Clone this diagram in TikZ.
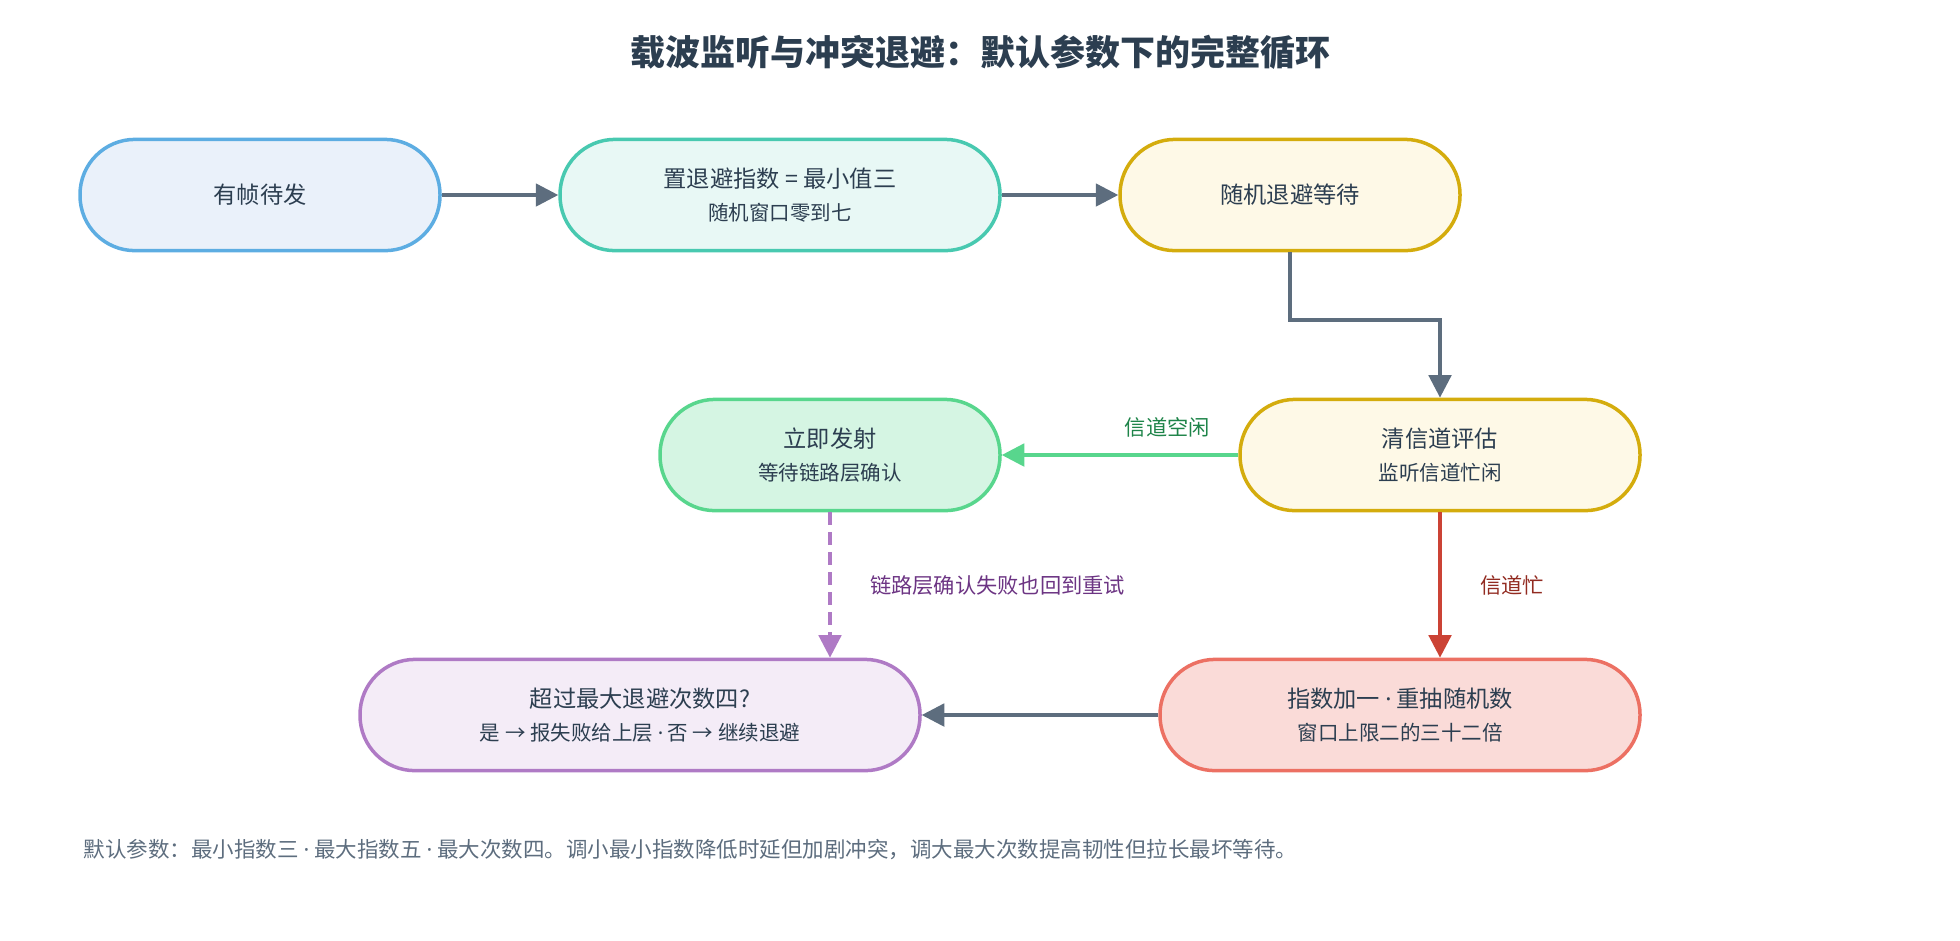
\documentclass[tikz,border=0pt]{standalone}
\usepackage{fontspec}
\setmainfont{Noto Sans CJK SC}
\newfontfamily\lat{Noto Sans}
\newcommand{\md}{{\lat ·}}
\usetikzlibrary{arrows.meta}
\definecolor{ink}{HTML}{2C3E50}
\definecolor{arr}{HTML}{5D6D7E}
\definecolor{bA}{HTML}{5DADE2}\definecolor{fA}{HTML}{EAF1FA}
\definecolor{bB}{HTML}{48C9B0}\definecolor{fB}{HTML}{E8F8F5}
\definecolor{bC}{HTML}{D4AC0D}\definecolor{fC}{HTML}{FEF9E7}
\definecolor{bE}{HTML}{58D68D}\definecolor{fE}{HTML}{D5F5E3}
\definecolor{bF}{HTML}{EC7063}\definecolor{fF}{HTML}{FADBD8}
\definecolor{bG}{HTML}{AF7AC5}\definecolor{fG}{HTML}{F4ECF7}
\definecolor{red}{HTML}{CB4335}\definecolor{tgreen}{HTML}{1E8449}
\definecolor{tred}{HTML}{922B21}\definecolor{tpurple}{HTML}{6C3483}
\begin{document}
\begin{tikzpicture}[x=0.5pt,y=-0.5pt,
 box/.style={rounded corners=22pt,line width=1.4pt,minimum height=44.5pt,align=center,text=ink,font=\fontsize{9.3}{11}\selectfont,inner sep=0pt},
 ar/.style={line width=1.4pt,draw=arr,-{Triangle[length=9pt,width=9pt]}},
 lab/.style={font=\fontsize{8.5}{10}\selectfont}]
\useasboundingbox (0,0) rectangle (1568,752);
\node[font=\bfseries\fontsize{14}{16}\selectfont,text=ink] (t) at (784,42) {载波监听与冲突退避：默认参数下的完整循环};
\node[box,draw=bA,fill=fA,minimum width=144pt] (a) at (208,156) {有帧待发};
\node[box,draw=bB,fill=fB,minimum width=176pt] (b) at (624,156) {置退避指数 = 最小值三\\[2pt]{\fontsize{8.2}{10}\selectfont 随机窗口零到七}};
\node[box,draw=bC,fill=fC,minimum width=136pt] (c) at (1032,156) {随机退避等待};
\node[box,draw=bC,fill=fC,minimum width=160pt] (d) at (1152,364) {清信道评估\\[2pt]{\fontsize{8.2}{10}\selectfont 监听信道忙闲}};
\node[box,draw=bE,fill=fE,minimum width=136pt] (e) at (664,364) {立即发射\\[2pt]{\fontsize{8.2}{10}\selectfont 等待链路层确认}};
\node[box,draw=bF,fill=fF,minimum width=192pt] (f) at (1120,572) {指数加一 \md{} 重抽随机数\\[2pt]{\fontsize{8.2}{10}\selectfont 窗口上限二的三十二倍}};
\node[box,draw=bG,fill=fG,minimum width=224pt] (g) at (512,572) {超过最大退避次数四?\\[2pt]{\fontsize{8.2}{10}\selectfont 是 → 报失败给上层 \md{} 否 → 继续退避}};
\draw[ar] (a) -- (b);
\draw[ar] (b) -- (c);
\coordinate (k1) at (1032,256);
\coordinate (k2) at (1152,256);
\draw[ar] (c.south) -- (k1) -- (k2) -- (d.north);
\draw[ar,draw=bE] (d) -- node[lab,above=3pt,pos=0.3,text=tgreen]{信道空闲} (e);
\draw[ar,draw=red] (d.south) -- node[lab,right=12pt,text=tred]{信道忙} (d.south |- f.north);
\draw[ar,draw=bG,dash pattern=on 5pt off 3pt] (e.south) -- node[lab,anchor=west,xshift=12pt,text=tpurple]{链路层确认失败也回到重试} (e.south |- g.north);
\draw[ar] (f) -- (g);
\node[anchor=west,text=arr,font=\fontsize{8.6}{10}\selectfont] (n) at (60,680) {默认参数：最小指数三 \md{} 最大指数五 \md{} 最大次数四。调小最小指数降低时延但加剧冲突，调大最大次数提高韧性但拉长最坏等待。};
\end{tikzpicture}
\end{document}
